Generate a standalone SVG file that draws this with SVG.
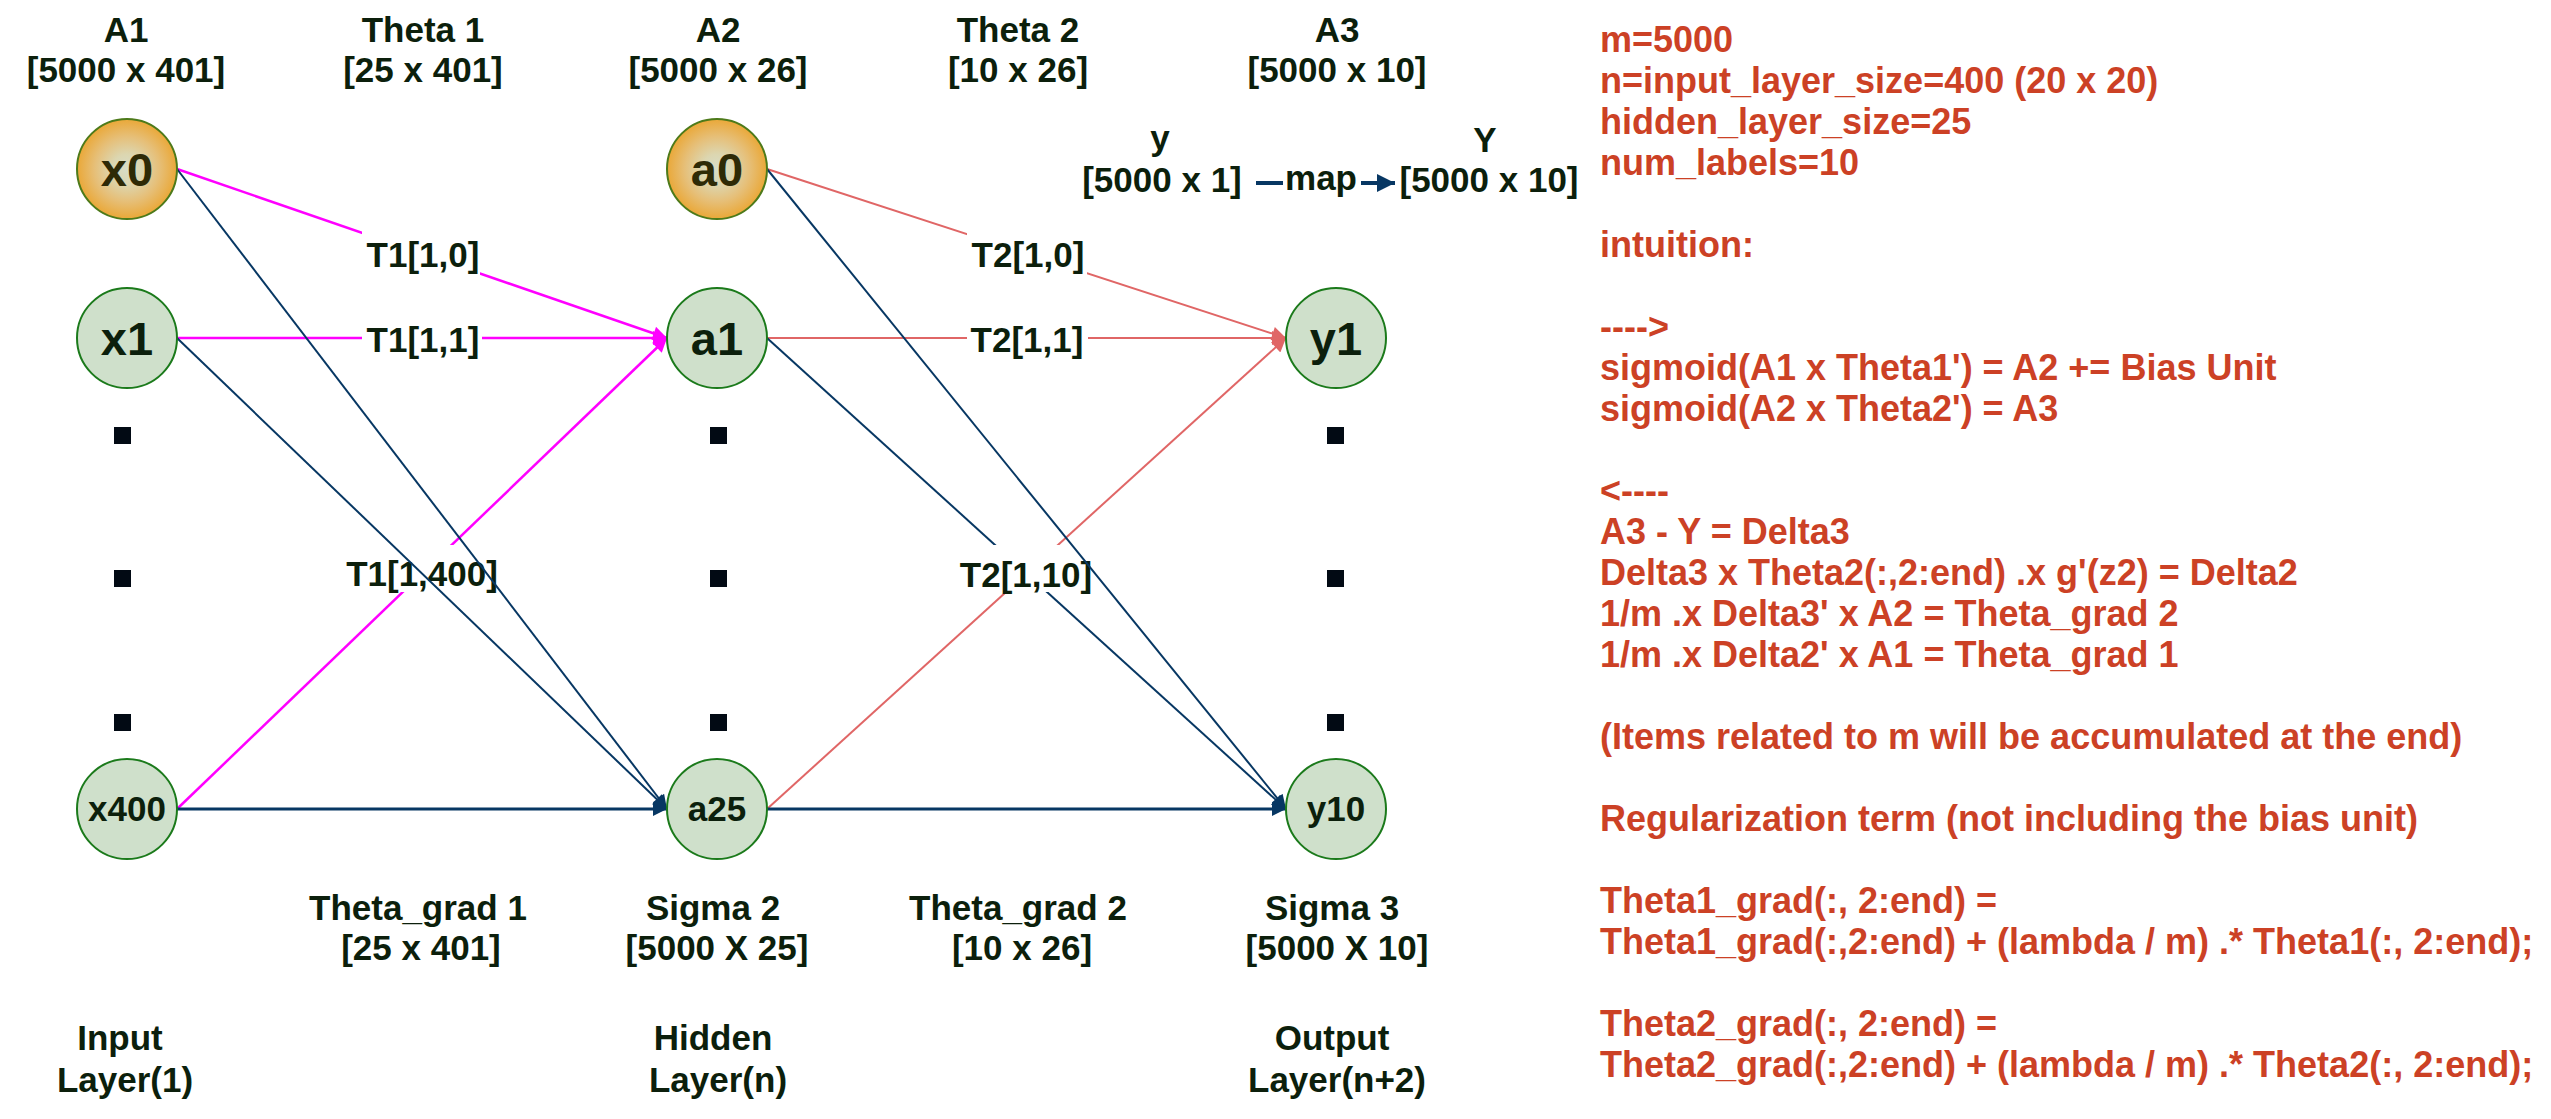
<svg xmlns="http://www.w3.org/2000/svg" width="2551" height="1119" viewBox="0 0 2551 1119">
<style>
text{font-family:"Liberation Sans",Arial,sans-serif;font-weight:bold}
.d{fill:#0c1f0c;font-size:35px;text-anchor:middle}
.r{fill:#cc4125;font-size:36px}
.nl{fill:#0c1f0c;font-size:47px;text-anchor:middle}
.ns{fill:#0c1f0c;font-size:35px;text-anchor:middle}
.no{fill:#2e2a06;font-size:47px;text-anchor:middle}
.g{fill:#cfe0cb;stroke:#1b7a1b;stroke-width:2}
.o{fill:url(#og);stroke:#4d7a1a;stroke-width:2}
.m{stroke:#ff00ff;stroke-width:2.5;fill:none}
.b{stroke:#073763;stroke-width:2;fill:none}
.bt{stroke:#073763;stroke-width:3;fill:none}
.rd{stroke:#e06666;stroke-width:2;fill:none}
.bg{fill:#ffffff}
.sq{fill:#020a14}
</style>
<defs>
<radialGradient id="og" cx="50%" cy="50%" r="50%">
<stop offset="0" stop-color="#d8ddc8"/>
<stop offset="0.3" stop-color="#dcd6b0"/>
<stop offset="0.65" stop-color="#e6bf78"/>
<stop offset="1" stop-color="#eaa838"/>
</radialGradient>
<marker id="am" viewBox="0 0 10 10" refX="10" refY="5" markerUnits="userSpaceOnUse" markerWidth="16" markerHeight="14" orient="auto"><path d="M0,0 L10,5 L0,10 z" fill="#ff00ff"/></marker>
<marker id="ab" viewBox="0 0 10 10" refX="10" refY="5" markerUnits="userSpaceOnUse" markerWidth="16" markerHeight="14" orient="auto"><path d="M0,0 L10,5 L0,10 z" fill="#073763"/></marker>
<marker id="ar" viewBox="0 0 10 10" refX="10" refY="5" markerUnits="userSpaceOnUse" markerWidth="16" markerHeight="14" orient="auto"><path d="M0,0 L10,5 L0,10 z" fill="#e06666"/></marker>
<marker id="amap" viewBox="0 0 10 10" refX="10" refY="5" markerUnits="userSpaceOnUse" markerWidth="18" markerHeight="20" orient="auto"><path d="M0,0 L10,5 L0,10 z" fill="#073763"/></marker>
</defs>
<rect width="2551" height="1119" fill="#ffffff"/>

<g id="headers">
<text class="d" x="126" y="42">A1</text>
<text class="d" x="126" y="82">[5000 x 401]</text>
<text class="d" x="423" y="42">Theta 1</text>
<text class="d" x="423" y="82">[25 x 401]</text>
<text class="d" x="718" y="42">A2</text>
<text class="d" x="718" y="82">[5000 x 26]</text>
<text class="d" x="1018" y="42">Theta 2</text>
<text class="d" x="1018" y="82">[10 x 26]</text>
<text class="d" x="1337" y="42">A3</text>
<text class="d" x="1337" y="82">[5000 x 10]</text>
</g>

<g id="mapping">
<text class="d" x="1160" y="150">y</text>
<text class="d" x="1162" y="192">[5000 x 1]</text>
<text class="d" x="1485" y="152">Y</text>
<text class="d" x="1489" y="192">[5000 x 10]</text>
<line x1="1256" y1="183" x2="1395" y2="183" stroke="#073763" stroke-width="4" marker-end="url(#amap)"/>
<rect class="bg" x="1283" y="160" width="78" height="46"/>
<text class="d" x="1321" y="190">map</text>
</g>

<g id="connectors">
<line class="m" x1="177" y1="169" x2="667" y2="338" marker-end="url(#am)"/>
<line class="m" x1="177" y1="338" x2="667" y2="338" marker-end="url(#am)"/>
<line class="m" x1="177" y1="809" x2="667" y2="338" marker-end="url(#am)"/>
<line class="bt" x1="177" y1="809" x2="667" y2="809" marker-end="url(#ab)"/>
<line class="rd" x1="767" y1="169" x2="1286" y2="338" marker-end="url(#ar)"/>
<line class="rd" x1="767" y1="338" x2="1286" y2="338" marker-end="url(#ar)"/>
<line class="rd" x1="767" y1="809" x2="1286" y2="338" marker-end="url(#ar)"/>
<line class="b" x1="767" y1="338" x2="1286" y2="809" marker-end="url(#ab)"/>
<line class="bt" x1="767" y1="809" x2="1286" y2="809" marker-end="url(#ab)"/>
<rect class="bg" x="362" y="228" width="118" height="47"/>
<text class="d" x="423" y="267">T1[1,0]</text>
<rect class="bg" x="362" y="313" width="120" height="47"/>
<text class="d" x="423" y="352">T1[1,1]</text>
<rect class="bg" x="343" y="545" width="157" height="47"/>
<text class="d" x="422" y="586">T1[1,400]</text>
<rect class="bg" x="967" y="228" width="120" height="47"/>
<text class="d" x="1028" y="267">T2[1,0]</text>
<rect class="bg" x="967" y="313" width="121" height="47"/>
<text class="d" x="1027" y="352">T2[1,1]</text>
<rect class="bg" x="958" y="545" width="136" height="47"/>
<text class="d" x="1026" y="587">T2[1,10]</text>
<line class="b" x1="177" y1="169" x2="667" y2="809" marker-end="url(#ab)"/>
<line class="b" x1="177" y1="338" x2="667" y2="809" marker-end="url(#ab)"/>
<line class="b" x1="767" y1="169" x2="1286" y2="809" marker-end="url(#ab)"/>
</g>

<g id="node-x0"><circle class="o" cx="127" cy="169" r="50"/><text class="no" x="127" y="186">x0</text></g>
<g id="node-x1"><circle class="g" cx="127" cy="338" r="50"/><text class="nl" x="127" y="355">x1</text></g>
<g id="node-x400"><circle class="g" cx="127" cy="809" r="50"/><text class="ns" x="127" y="821">x400</text></g>
<g id="node-a0"><circle class="o" cx="717" cy="169" r="50"/><text class="no" x="717" y="186">a0</text></g>
<g id="node-a1"><circle class="g" cx="717" cy="338" r="50"/><text class="nl" x="717" y="355">a1</text></g>
<g id="node-a25"><circle class="g" cx="717" cy="809" r="50"/><text class="ns" x="717" y="821">a25</text></g>
<g id="node-y1"><circle class="g" cx="1336" cy="338" r="50"/><text class="nl" x="1336" y="355">y1</text></g>
<g id="node-y10"><circle class="g" cx="1336" cy="809" r="50"/><text class="ns" x="1336" y="821">y10</text></g>

<g id="ellipsis">
<rect class="sq" x="114" y="427" width="17" height="17"/>
<rect class="sq" x="114" y="570" width="17" height="17"/>
<rect class="sq" x="114" y="714" width="17" height="17"/>
<rect class="sq" x="710" y="427" width="17" height="17"/>
<rect class="sq" x="710" y="570" width="17" height="17"/>
<rect class="sq" x="710" y="714" width="17" height="17"/>
<rect class="sq" x="1327" y="427" width="17" height="17"/>
<rect class="sq" x="1327" y="570" width="17" height="17"/>
<rect class="sq" x="1327" y="714" width="17" height="17"/>
</g>

<g id="bottom-labels">
<text class="d" x="418" y="920">Theta_grad 1</text>
<text class="d" x="421" y="960">[25 x 401]</text>
<text class="d" x="713" y="920">Sigma 2</text>
<text class="d" x="717" y="960">[5000 X 25]</text>
<text class="d" x="1018" y="920">Theta_grad 2</text>
<text class="d" x="1022" y="960">[10 x 26]</text>
<text class="d" x="1332" y="920">Sigma 3</text>
<text class="d" x="1337" y="960">[5000 X 10]</text>
<text class="d" x="120" y="1050">Input</text>
<text class="d" x="125" y="1092">Layer(1)</text>
<text class="d" x="713" y="1050">Hidden</text>
<text class="d" x="718" y="1092">Layer(n)</text>
<text class="d" x="1332" y="1050">Output</text>
<text class="d" x="1337" y="1092">Layer(n+2)</text>
</g>

<g id="notes">
<text class="r" x="1600" y="52">m=5000</text>
<text class="r" x="1600" y="93">n=input_layer_size=400 (20 x 20)</text>
<text class="r" x="1600" y="134">hidden_layer_size=25</text>
<text class="r" x="1600" y="175">num_labels=10</text>
<text class="r" x="1600" y="257">intuition:</text>
<text class="r" x="1600" y="339">----&gt;</text>
<text class="r" x="1600" y="380">sigmoid(A1 x Theta1') = A2 += Bias Unit</text>
<text class="r" x="1600" y="421">sigmoid(A2 x Theta2') = A3</text>
<text class="r" x="1600" y="503">&lt;----</text>
<text class="r" x="1600" y="544">A3 - Y = Delta3</text>
<text class="r" x="1600" y="585">Delta3 x Theta2(:,2:end) .x g'(z2) = Delta2</text>
<text class="r" x="1600" y="626">1/m .x Delta3' x A2 = Theta_grad 2</text>
<text class="r" x="1600" y="667">1/m .x Delta2' x A1 = Theta_grad 1</text>
<text class="r" x="1600" y="749">(Items related to m will be accumulated at the end)</text>
<text class="r" x="1600" y="831">Regularization term (not including the bias unit)</text>
<text class="r" x="1600" y="913">Theta1_grad(:, 2:end) =</text>
<text class="r" x="1600" y="954">Theta1_grad(:,2:end) + (lambda / m) .* Theta1(:, 2:end);</text>
<text class="r" x="1600" y="1036">Theta2_grad(:, 2:end) =</text>
<text class="r" x="1600" y="1077">Theta2_grad(:,2:end) + (lambda / m) .* Theta2(:, 2:end);</text>
</g>
</svg>
